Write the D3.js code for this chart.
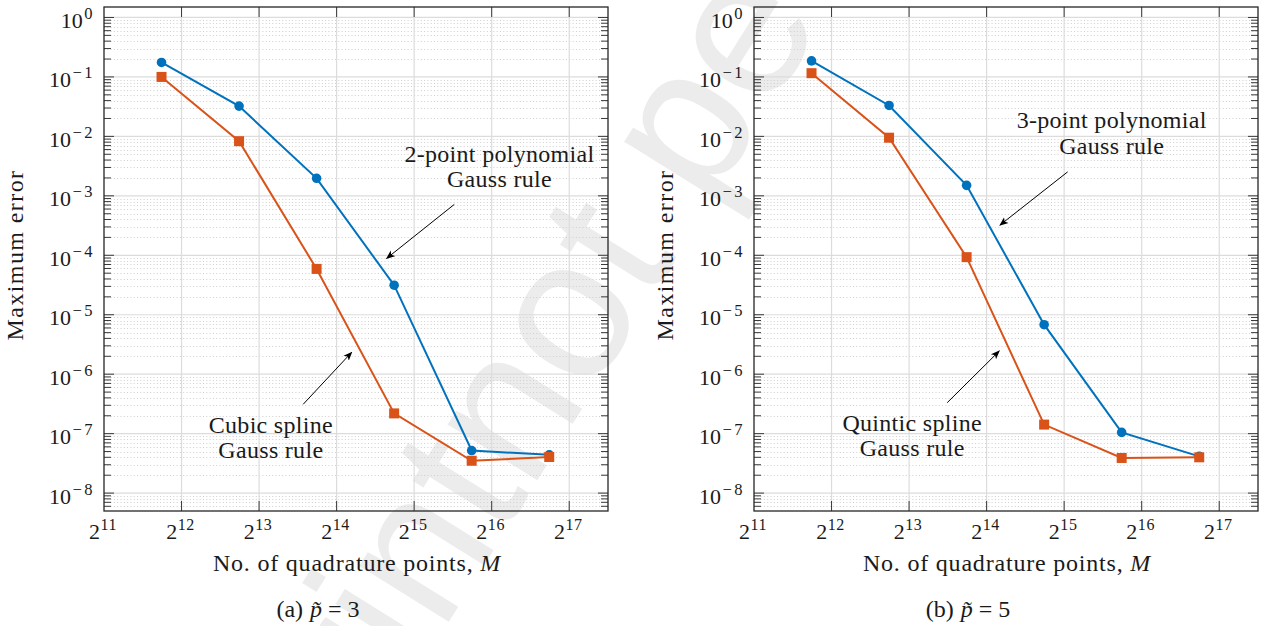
<!DOCTYPE html>
<html>
<head>
<meta charset="utf-8">
<script src="https://cdn.jsdelivr.net/npm/d3@7"></script>
<style>
  body { margin: 0; background: #fff; }
  svg text { font-family: "Liberation Serif", "Times New Roman", serif; fill: #1a1a1a; }
</style>
</head>
<body>
<svg id="chart" width="1266" height="626"></svg>
<script>
// quadrature points M (same for both panels)
const quadPoints = [3425, 6850, 13700, 27400, 54800, 109600];

// panel (a): p~ = 3
const polyErrA = [0.175, 0.0323, 1.97e-3, 3.14e-5, 5.2e-8, 4.4e-8];
const splineErrA = [0.100, 8.3e-3, 5.9e-5, 2.19e-7, 3.5e-8, 4.05e-8];

// panel (b): p~ = 5
const polyErrB = [0.186, 0.0331, 1.50e-3, 6.8e-6, 1.05e-7, 4.15e-8];
const splineErrB = [0.1156, 9.5e-3, 9.3e-5, 1.42e-7, 3.9e-8, 4.0e-8];

const xTickPowers = [11, 12, 13, 14, 15, 16, 17];
const yTickPowers = [0, -1, -2, -3, -4, -5, -6, -7, -8];

const xLabel = 'No. of quadrature points, ';
const yLabel = 'Maximum error';

// annotation anchors as [log2 M, log10 error]
const notesA = {
  poly: { lines: ['2-point polynomial', 'Gauss rule'], at: [16.10, -2.434], dy: -0.42,
          arrow: [[15.517, -3.145], [14.645, -4.052]] },
  spline: { lines: ['Cubic spline', 'Gauss rule'], at: [13.152, -6.988], dy: -0.42,
          arrow: [[13.569, -6.506], [14.194, -5.632]] }
};
const notesB = {
  poly: { lines: ['3-point polynomial', 'Gauss rule'], at: [15.613, -1.862], dy: -0.43,
          arrow: [[15.045, -2.597], [14.172, -3.492]] },
  spline: { lines: ['Quintic spline', 'Gauss rule'], at: [13.040, -6.955], dy: -0.42,
          arrow: [[13.492, -6.479], [14.163, -5.610]] }
};

const blue = '#0072BD';
const orange = '#D95319';
const plotW = 504, plotH = 504;

const svg = d3.select('#chart');

const defs = svg.append('defs');
defs.append('marker')
  .attr('id', 'arrowhead')
  .attr('viewBox', '0 0 10 10')
  .attr('refX', 9).attr('refY', 5)
  .attr('markerWidth', 9).attr('markerHeight', 9)
  .attr('markerUnits', 'userSpaceOnUse')
  .attr('orient', 'auto')
  .append('path')
  .attr('d', 'M0,1 L10,5 L0,9 L2.5,5 Z')
  .attr('fill', '#000');

// watermark behind everything
const wm = svg.append('g')
  .attr('transform', 'translate(530,492) rotate(-58)');
wm.append('text').attr('text-anchor', 'end').style('fill', '#ececec')
  .style('font-family', '"Liberation Sans", Arial, sans-serif').style('font-size', '200px')
  .text('Preprint ');
wm.append('text').attr('text-anchor', 'start').style('fill', '#ececec')
  .style('font-family', '"Liberation Sans", Arial, sans-serif').style('font-size', '200px')
  .text('not peer reviewed');

function drawPanel(ox, polyErr, splineErr, notes, caption, pVal) {
  const g = svg.append('g').attr('transform', 'translate(' + ox + ',7)');

  const x = d3.scaleLog().base(2).domain([Math.pow(2, 11), Math.pow(2, 17.5)]).range([0, plotW]);
  const y = d3.scaleLog().domain([5e-9, 1.5]).range([plotH, 0]);

  const majorY = yTickPowers.map(p => Math.pow(10, p));
  const minorY = [];
  for (let p = -9; p <= 0; p++) {
    for (let k = 2; k <= 9; k++) {
      const v = k * Math.pow(10, p);
      if (v > 5e-9 && v < 1.5) minorY.push(v);
    }
  }
  const majorX = xTickPowers.map(p => Math.pow(2, p));

  // minor dotted grid
  g.append('g').selectAll('line').data(minorY).enter().append('line')
    .attr('x1', 0).attr('x2', plotW)
    .attr('y1', d => Math.round(y(d)) + 0.5).attr('y2', d => Math.round(y(d)) + 0.5)
    .attr('stroke', '#cfcfcf').attr('stroke-width', 1)
    .attr('stroke-dasharray', '1,2.3');

  // major grid
  g.append('g').selectAll('line').data(majorY).enter().append('line')
    .attr('x1', 0).attr('x2', plotW)
    .attr('y1', d => y(d)).attr('y2', d => y(d))
    .attr('stroke', '#dcdcdc').attr('stroke-width', 1.2);
  g.append('g').selectAll('line').data(majorX.slice(1)).enter().append('line')
    .attr('y1', 0).attr('y2', plotH)
    .attr('x1', d => x(d)).attr('x2', d => x(d))
    .attr('stroke', '#dcdcdc').attr('stroke-width', 1.2);

  // ticks: left & right (major + minor), top & bottom (major)
  const tk = g.append('g').attr('stroke', '#3a3a3a').attr('stroke-width', 1);
  [0, plotW].forEach(function(edge) {
    const dir = edge === 0 ? 1 : -1;
    tk.append('g').selectAll('line').data(majorY).enter().append('line')
      .attr('x1', edge).attr('x2', edge + dir * 10)
      .attr('y1', d => y(d)).attr('y2', d => y(d));
    tk.append('g').selectAll('line').data(minorY).enter().append('line')
      .attr('x1', edge).attr('x2', edge + dir * 7)
      .attr('y1', d => y(d)).attr('y2', d => y(d));
  });
  [0, plotH].forEach(function(edge) {
    const dir = edge === 0 ? 1 : -1;
    tk.append('g').selectAll('line').data(majorX.slice(1)).enter().append('line')
      .attr('y1', edge).attr('y2', edge + dir * 10)
      .attr('x1', d => x(d)).attr('x2', d => x(d));
  });

  // frame
  g.append('rect').attr('x', 0).attr('y', 0).attr('width', plotW).attr('height', plotH)
    .attr('fill', 'none').attr('stroke', '#262626').attr('stroke-width', 1.3);

  // y tick labels
  yTickPowers.forEach(function(p) {
    const t = g.append('text')
      .attr('x', -9).attr('y', y(Math.pow(10, p)) + 10.5)
      .attr('text-anchor', 'end').style('font-size', '22px');
    t.append('tspan').text('10');
    t.append('tspan').attr('dy', -9).attr('dx', 1.5).style('font-size', '16.5px')
      .style('letter-spacing', '2.5px')
      .text(p === 0 ? '0' : '\u2212' + Math.abs(p));
  });

  // x tick labels
  xTickPowers.forEach(function(p) {
    const t = g.append('text')
      .attr('x', x(Math.pow(2, p)) - 1).attr('y', plotH + 28)
      .attr('text-anchor', 'middle').style('font-size', '22px');
    t.append('tspan').text('2');
    t.append('tspan').attr('dy', -9).attr('dx', 0.5).style('font-size', '16px')
      .style('letter-spacing', '0.6px').text(p);
  });

  // axis labels
  const xl = g.append('text').attr('x', plotW / 2 + 1).attr('y', plotH + 60)
    .attr('text-anchor', 'middle').style('font-size', '24px')
    .style('letter-spacing', '0.8px');
  xl.append('tspan').text(xLabel);
  xl.append('tspan').style('font-style', 'italic').text('M');

  g.append('text')
    .attr('transform', 'translate(' + (-81) + ',' + (plotH / 2 - 4) + ') rotate(-90)')
    .attr('text-anchor', 'middle').style('font-size', '24px')
    .style('letter-spacing', '1.4px')
    .text(yLabel);

  // caption
  const cap = g.append('text').attr('x', plotW / 2 - 38).attr('y', plotH + 106)
    .attr('text-anchor', 'middle').style('font-size', '24px');
  cap.append('tspan').text(caption);
  cap.append('tspan').attr('dx', 7).style('font-style', 'italic').text('p\u0303');
  cap.append('tspan').attr('dx', 6).text('=');
  cap.append('tspan').attr('dx', 6).text(pVal);

  // series
  const line = d3.line().x(d => x(d[0])).y(d => y(d[1]));
  const polyPts = d3.zip(quadPoints, polyErr);
  const splinePts = d3.zip(quadPoints, splineErr);

  g.append('path').datum(polyPts).attr('d', line)
    .attr('fill', 'none').attr('stroke', blue).attr('stroke-width', 2);
  g.append('g').selectAll('circle').data(polyPts).enter().append('circle')
    .attr('cx', d => x(d[0])).attr('cy', d => y(d[1])).attr('r', 4.8)
    .attr('fill', blue);

  g.append('path').datum(splinePts).attr('d', line)
    .attr('fill', 'none').attr('stroke', orange).attr('stroke-width', 2);
  g.append('g').selectAll('rect').data(splinePts).enter().append('rect')
    .attr('x', d => x(d[0]) - 5).attr('y', d => y(d[1]) - 5)
    .attr('width', 10).attr('height', 10)
    .attr('fill', orange);

  // annotations
  const ax = v => x(Math.pow(2, v));
  const ay = v => y(Math.pow(10, v));
  [notes.poly, notes.spline].forEach(function(n) {
    n.lines.forEach(function(s, i) {
      g.append('text')
        .attr('x', ax(n.at[0]))
        .attr('y', ay(n.at[1] + i * n.dy))
        .attr('text-anchor', 'middle').style('font-size', '24px')
        .style('letter-spacing', '0.3px')
        .text(s);
    });
    g.append('line')
      .attr('x1', ax(n.arrow[0][0])).attr('y1', ay(n.arrow[0][1]))
      .attr('x2', ax(n.arrow[1][0])).attr('y2', ay(n.arrow[1][1]))
      .attr('stroke', '#000').attr('stroke-width', 1)
      .attr('marker-end', 'url(#arrowhead)');
  });
}

drawPanel(104, polyErrA, splineErrA, notesA, '(a)', 3);
drawPanel(754, polyErrB, splineErrB, notesB, '(b)', 5);
</script>
</body>
</html>
